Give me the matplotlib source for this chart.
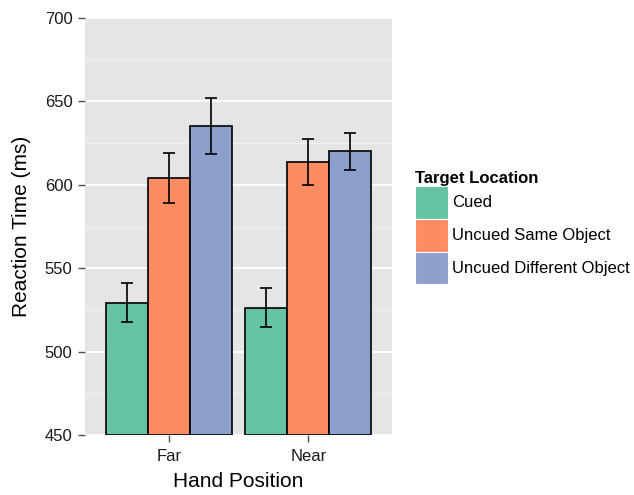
import numpy as np
import matplotlib.pyplot as plt
from matplotlib.patches import Patch

plt.rcParams['font.family'] = ['Liberation Sans', 'DejaVu Sans']

# Data
positions = ['Far', 'Near']
locations = ['Cued', 'Uncued Same Object', 'Uncued Different Object']
colors = ['#66C2A5', '#FC8D62', '#8DA0CB']
means = {
    'Cued': [529.3, 526.1],
    'Uncued Same Object': [604.1, 613.5],
    'Uncued Different Object': [635.1, 620.1],
}
err_low = {
    'Cued': [517.6, 514.7],
    'Uncued Same Object': [588.9, 599.9],
    'Uncued Different Object': [618.3, 608.7],
}
err_high = {
    'Cued': [541.0, 538.0],
    'Uncued Same Object': [619.0, 627.3],
    'Uncued Different Object': [651.8, 631.3],
}

fig = plt.figure(figsize=(6.34, 4.95), dpi=100)
ax = fig.add_axes([85 / 634, 60 / 495, 307 / 634, 417 / 495])
ax.set_facecolor('#E5E5E5')

x = np.arange(1, len(positions) + 1)
width = 0.3
for i, loc in enumerate(locations):
    xs = x + (i - 1) * width
    m = np.array(means[loc])
    lo = m - np.array(err_low[loc])
    hi = np.array(err_high[loc]) - m
    ax.bar(xs, m - 450, width, bottom=450, color=colors[i],
           edgecolor='black', linewidth=1.2, zorder=3)
    ax.errorbar(xs, m, yerr=[lo, hi], fmt='none', ecolor='black',
                elinewidth=1.2, capsize=4.3, capthick=1.2, zorder=4)

ax.set_xlim(0.4, 2.6)
ax.set_ylim(450, 700)
ax.set_xticks(x)
ax.set_xticklabels(positions)
ax.set_yticks([450, 500, 550, 600, 650, 700])
ax.set_yticks([475, 525, 575, 625, 675], minor=True)
ax.yaxis.grid(True, which='major', color='white', linewidth=1.3, zorder=0)
ax.yaxis.grid(True, which='minor', color='#F2F2F2', linewidth=0.7, zorder=0)
ax.xaxis.grid(False)
ax.set_axisbelow(True)
for s in ax.spines.values():
    s.set_visible(False)
ax.tick_params(axis='both', which='major', length=5, width=1, color='#4D4D4D',
               labelsize=12, labelcolor='#1A1A1A')
ax.tick_params(axis='x', which='major', pad=5)
ax.tick_params(axis='y', which='major', pad=4)
ax.tick_params(axis='both', which='minor', length=0)

ax.set_xlabel('Hand Position', fontsize=15, labelpad=6)
ax.set_ylabel('Reaction Time (ms)', fontsize=15, labelpad=10)

handles = [Patch(facecolor=c, edgecolor='white', linewidth=0.8) for c in colors]
leg = fig.legend(handles, locations, title='Target Location',
                 loc='upper left', bbox_to_anchor=(415 / 634, 1 - 171 / 495),
                 frameon=False, fontsize=12, title_fontsize=12,
                 handlelength=1.95, handleheight=2.65, handletextpad=0.3,
                 labelspacing=0, borderpad=0, borderaxespad=0, alignment='left')
leg.get_title().set_fontweight('bold')

fig.savefig('out.png', dpi=100)
